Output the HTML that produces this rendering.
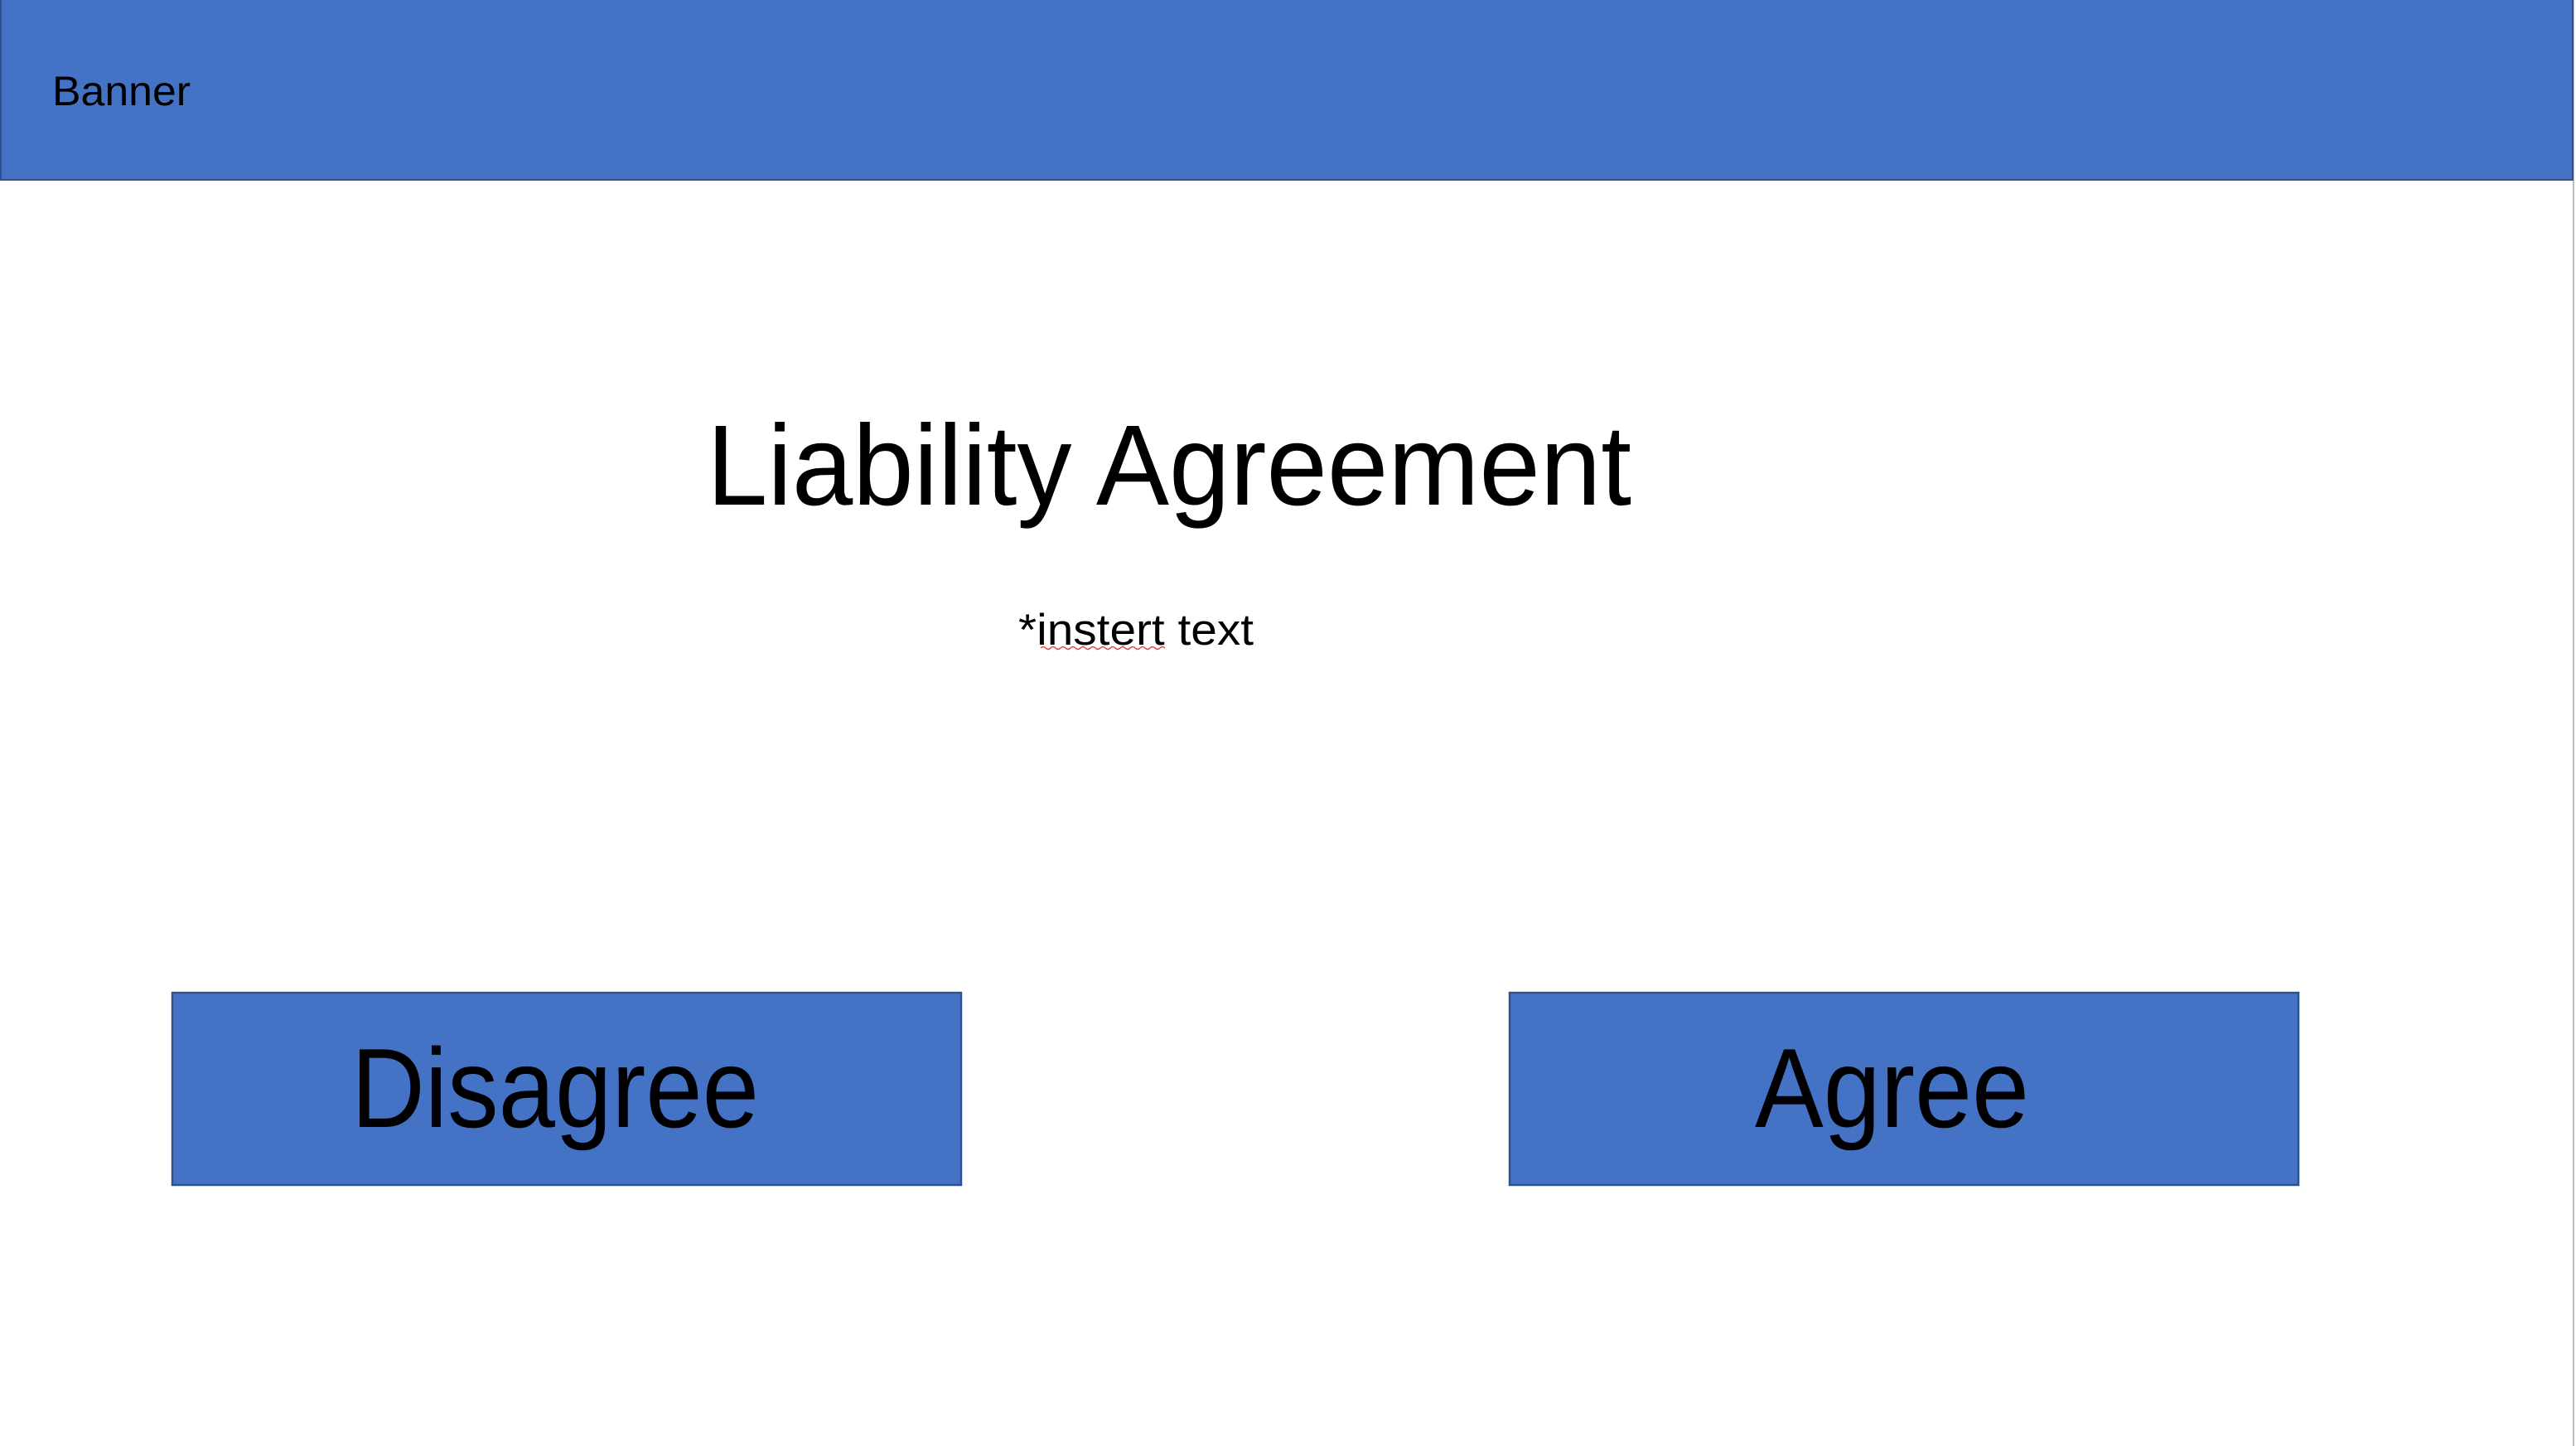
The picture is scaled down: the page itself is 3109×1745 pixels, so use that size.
<!DOCTYPE html>
<html><head><meta charset="utf-8"><style>
html,body{margin:0;padding:0;background:#fff;}
svg{display:block;}
text{font-family:"Liberation Sans",sans-serif;fill:#000;}
</style></head><body>
<svg width="3109" height="1745" viewBox="0 0 3109 1745" xmlns="http://www.w3.org/2000/svg">
<rect x="0" y="0" width="3109" height="1745" fill="#fff"/>
<line x1="3106" y1="0" x2="3106" y2="1745" stroke="#bfbfbf" stroke-width="2"/>
<rect x="1" y="-2" width="3104" height="219" fill="#4472C4" stroke="#2F528F" stroke-width="2"/>
<text x="63" y="127" font-size="50" textLength="167" lengthAdjust="spacingAndGlyphs">Banner</text>
<text x="853" y="609" font-size="138" textLength="1116" lengthAdjust="spacingAndGlyphs">Liability Agreement</text>
<text x="1229" y="778" font-size="53" textLength="284" lengthAdjust="spacingAndGlyphs">*instert text</text>
<path d="M1256 782 q3 -3 6 0 t6 0 t6 0 t6 0 t6 0 t6 0 t6 0 t6 0 t6 0 t6 0 t6 0 t6 0 t6 0 t6 0 t6 0 t6 0 t6 0 t6 0 t6 0 t6 0 t6 0 t6 0 t6 0 t6 0 t6 0" fill="none" stroke="#e04040" stroke-width="1.5"/>
<rect x="208" y="1198" width="952" height="232" fill="#4472C4" stroke="#2F528F" stroke-width="2.5"/>
<text x="424" y="1360" font-size="136" textLength="492" lengthAdjust="spacingAndGlyphs">Disagree</text>
<rect x="1822" y="1198" width="952" height="232" fill="#4472C4" stroke="#2F528F" stroke-width="2.5"/>
<text x="2118" y="1360" font-size="136" textLength="331" lengthAdjust="spacingAndGlyphs">Agree</text>
</svg>
</body></html>
